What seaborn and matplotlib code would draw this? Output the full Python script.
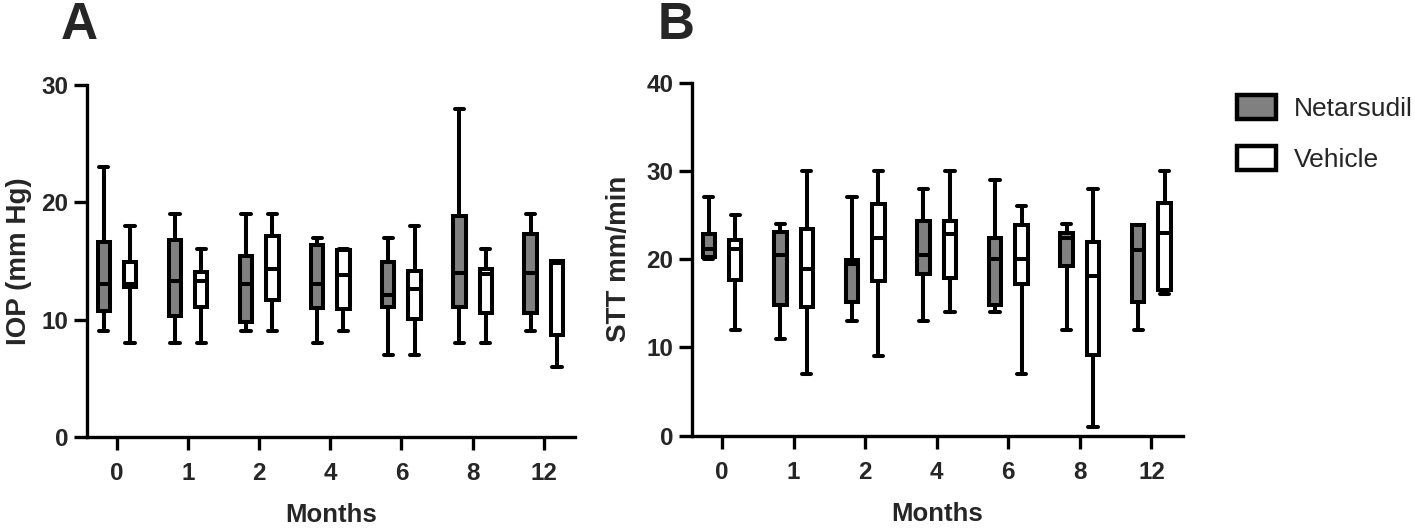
import pandas as pd
import matplotlib
matplotlib.use('Agg')
import matplotlib.pyplot as plt
from matplotlib.patches import Patch
import seaborn as sns

sns.set_theme(style='ticks')
plt.rcParams['font.family'] = ['Liberation Sans', 'DejaVu Sans']

MONTHS = ['0', '1', '2', '4', '6', '8', '12']
GROUPS = ['Netarsudil', 'Vehicle']
COLORS = {'Netarsudil': '#808080', 'Vehicle': 'white'}

# five-number summaries per month: min, Q1, median, Q3, max
IOP_NETARSUDIL = [
    [9, 10.7, 13, 16.6, 23],
    [8, 10.3, 13.3, 16.8, 19],
    [9, 9.8, 13, 15.4, 19],
    [8, 11, 13, 16.4, 17],
    [7, 11.1, 12.1, 14.9, 17],
    [8, 11.1, 14, 18.8, 28],
    [9, 10.6, 14, 17.3, 19],
]
IOP_VEHICLE = [
    [8, 12.8, 13, 14.9, 18],
    [8, 11.1, 13.3, 14.1, 16],
    [9, 11.65, 14.3, 17.1, 19],
    [9, 10.9, 13.8, 15.9, 16],
    [7, 10.1, 12.6, 14.15, 18],
    [8, 10.6, 13.9, 14.35, 16],
    [6, 8.7, 14.85, 15, 15],
]
STT_NETARSUDIL = [
    [20, 20.3, 21.2, 22.9, 27],
    [11, 14.8, 20.5, 23.1, 24],
    [13, 15.1, 19.4, 19.9, 27],
    [13, 18.3, 20.5, 24.35, 28],
    [14, 14.8, 20, 22.4, 29],
    [12, 19.2, 22.4, 22.95, 24],
    [12, 15.2, 21, 23.9, 23.9],
]
STT_VEHICLE = [
    [12, 17.65, 21.1, 22.2, 25],
    [7, 14.6, 18.9, 23.4, 30],
    [9, 17.5, 22.4, 26.2, 30],
    [14, 17.85, 22.9, 24.35, 30],
    [7, 17.2, 20, 23.9, 26],
    [1, 9.1, 18.1, 21.9, 28],
    [16, 16.5, 23, 26.4, 30],
]


def to_long(net, veh):
    rows = []
    for group, series in zip(GROUPS, [net, veh]):
        for month, vals in zip(MONTHS, series):
            for v in vals:
                rows.append({'Month': month, 'Group': group, 'value': v})
    return pd.DataFrame(rows)


def draw_panel(ax, df, ylabel, ymax, label_x):
    sns.boxplot(data=df, x='Month', y='value', hue='Group', order=MONTHS,
                hue_order=GROUPS, palette=COLORS, linecolor='black',
                linewidth=2.9, whis=(0, 100), width=0.74, gap=0.53,
                dodge=True, legend=False, ax=ax,
                whiskerprops=dict(solid_capstyle='round'),
                capprops=dict(solid_capstyle='round'),
                capwidths=0.13)
    ax.set_xlim(-0.42, 6.44)
    ax.set_ylim(0, ymax)
    ax.set_yticks(range(0, ymax + 1, 10))
    ax.set_ylabel(ylabel, fontsize=20, fontweight='bold')
    ax.set_xlabel('Months', fontsize=18.5, fontweight='bold')
    ax.yaxis.set_label_coords(label_x, 0.5)
    ax.xaxis.set_label_coords(0.5, -0.188)
    for lbl in ax.get_xticklabels() + ax.get_yticklabels():
        lbl.set_fontweight('bold')
    ax.tick_params(labelsize=17.5, width=2.4, length=9.5, color='black')
    ax.tick_params(axis='x', pad=8.5)
    ax.tick_params(axis='y', pad=4)
    for side in ['left', 'bottom']:
        ax.spines[side].set_linewidth(2.4)
        ax.spines[side].set_color('black')
    sns.despine(ax=ax)


fig = plt.figure(figsize=(14.15, 5.3), dpi=100)
ax_a = fig.add_axes([0.0615, 0.1755, 0.3449, 0.664])
ax_b = fig.add_axes([0.489, 0.178, 0.347, 0.666])

draw_panel(ax_a, to_long(IOP_NETARSUDIL, IOP_VEHICLE), 'IOP (mm Hg)', 30, -0.113)
draw_panel(ax_b, to_long(STT_NETARSUDIL, STT_VEHICLE), 'STT mm/min', 40, -0.123)

fig.text(0.0558, 0.952, 'A', fontsize=37, fontweight='bold', ha='center', va='center')
fig.text(0.478, 0.952, 'B', fontsize=37, fontweight='bold', ha='center', va='center')

handles = [Patch(facecolor=COLORS[g], edgecolor='black', linewidth=3.2, label=g) for g in GROUPS]
fig.legend(handles=handles, loc='upper left', bbox_to_anchor=(0.874, 0.82),
           frameon=False, fontsize=19, handlelength=1.5, handleheight=1.0,
           handletextpad=0.65, labelspacing=0.95, borderpad=0, borderaxespad=0)

fig.savefig('out.png', dpi=100)
